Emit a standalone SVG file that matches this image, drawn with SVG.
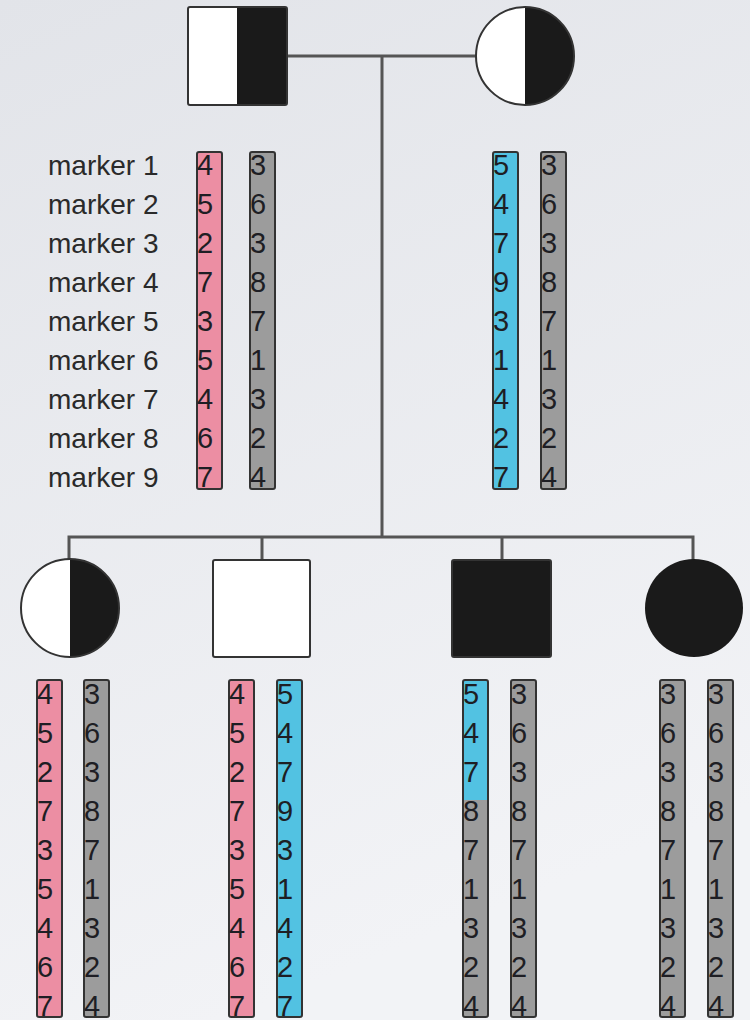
<svg xmlns="http://www.w3.org/2000/svg" width="750" height="1020" viewBox="0 0 750 1020">
  <defs>
    <linearGradient id="bg" x1="0" y1="0" x2="0.3" y2="1">
      <stop offset="0" stop-color="#e2e4e9"/>
      <stop offset="1" stop-color="#f2f3f6"/>
    </linearGradient>
    <style>
      .line { stroke: #555; stroke-width: 3; fill: none; }
      .edge { stroke: #333; stroke-width: 2; }
      .white { fill: #ffffff; }
      .black { fill: #1a1a1a; }
      .bar { stroke: #333; stroke-width: 2; }
      .pink { fill: #ec8ea3; }
      .cyan { fill: #52c2e2; }
      .grey { fill: #9c9c9c; }
      .num { font-family: "Liberation Sans", Arial, sans-serif; font-size: 29px; fill: #1e1e24; }
      .lbl { font-family: "Liberation Sans", Arial, sans-serif; font-size: 28px; fill: #2a2a2a; }
    </style>
  </defs>

  <rect width="750" height="1020" fill="url(#bg)"/>

  <!-- pedigree lines -->
  <g id="connectors">
    <line class="line" x1="287" y1="56" x2="476" y2="56"/>
    <line class="line" x1="382" y1="56" x2="382" y2="537"/>
    <polyline class="line" points="69,560 69,537 693,537 693,560"/>
    <line class="line" x1="262" y1="537" x2="262" y2="560"/>
    <line class="line" x1="502" y1="537" x2="502" y2="560"/>
  </g>

  <!-- father: half-shaded square -->
  <g id="father">
    <rect class="white" x="188" y="7" width="50" height="98"/>
    <rect class="black" x="237" y="7" width="50" height="98"/>
    <rect class="edge" x="188" y="7" width="99" height="98" rx="2" fill="none"/>
  </g>

  <!-- mother: half-shaded circle -->
  <g id="mother">
    <circle class="white" cx="525" cy="56" r="49"/>
    <path class="black" d="M525,7 A49,49 0 0 1 525,105 Z"/>
    <circle class="edge" cx="525" cy="56" r="49" fill="none"/>
  </g>

  <!-- children -->
  <g id="child1">
    <circle class="white" cx="70" cy="608" r="49"/>
    <path class="black" d="M70,559 A49,49 0 0 1 70,657 Z"/>
    <circle class="edge" cx="70" cy="608" r="49" fill="none"/>
  </g>
  <g id="child2">
    <rect class="white edge" x="213" y="560" width="97" height="97" rx="2"/>
  </g>
  <g id="child3">
    <rect class="black edge" x="452" y="560" width="99" height="97" rx="2"/>
  </g>
  <g id="child4">
    <circle class="black" cx="694" cy="608" r="49"/>
  </g>

  <!-- marker labels -->
  <g id="labels" class="lbl">
    <text x="48" y="175">marker 1</text>
    <text x="48" y="214">marker 2</text>
    <text x="48" y="253">marker 3</text>
    <text x="48" y="292">marker 4</text>
    <text x="48" y="331">marker 5</text>
    <text x="48" y="370">marker 6</text>
    <text x="48" y="409">marker 7</text>
    <text x="48" y="448">marker 8</text>
    <text x="48" y="487">marker 9</text>
  </g>

  <!-- father haplotypes -->
  <g id="father-haplotypes">
    <rect class="bar pink" x="197" y="152" width="25" height="337" rx="2"/>
    <text class="num" x="197" y="175"><tspan x="197">4</tspan><tspan x="197" dy="39">5</tspan><tspan x="197" dy="39">2</tspan><tspan x="197" dy="39">7</tspan><tspan x="197" dy="39">3</tspan><tspan x="197" dy="39">5</tspan><tspan x="197" dy="39">4</tspan><tspan x="197" dy="39">6</tspan><tspan x="197" dy="39">7</tspan></text>
    <rect class="bar grey" x="250" y="152" width="25" height="337" rx="2"/>
    <text class="num" x="250" y="175"><tspan x="250">3</tspan><tspan x="250" dy="39">6</tspan><tspan x="250" dy="39">3</tspan><tspan x="250" dy="39">8</tspan><tspan x="250" dy="39">7</tspan><tspan x="250" dy="39">1</tspan><tspan x="250" dy="39">3</tspan><tspan x="250" dy="39">2</tspan><tspan x="250" dy="39">4</tspan></text>
  </g>

  <!-- mother haplotypes -->
  <g id="mother-haplotypes">
    <rect class="bar cyan" x="493" y="152" width="25" height="337" rx="2"/>
    <text class="num" x="493" y="175"><tspan x="493">5</tspan><tspan x="493" dy="39">4</tspan><tspan x="493" dy="39">7</tspan><tspan x="493" dy="39">9</tspan><tspan x="493" dy="39">3</tspan><tspan x="493" dy="39">1</tspan><tspan x="493" dy="39">4</tspan><tspan x="493" dy="39">2</tspan><tspan x="493" dy="39">7</tspan></text>
    <rect class="bar grey" x="541" y="152" width="25" height="337" rx="2"/>
    <text class="num" x="541" y="175"><tspan x="541">3</tspan><tspan x="541" dy="39">6</tspan><tspan x="541" dy="39">3</tspan><tspan x="541" dy="39">8</tspan><tspan x="541" dy="39">7</tspan><tspan x="541" dy="39">1</tspan><tspan x="541" dy="39">3</tspan><tspan x="541" dy="39">2</tspan><tspan x="541" dy="39">4</tspan></text>
  </g>

  <!-- child 1 haplotypes -->
  <g id="child1-haplotypes">
    <rect class="bar pink" x="37" y="680" width="25" height="337" rx="2"/>
    <text class="num" x="37" y="704"><tspan x="37">4</tspan><tspan x="37" dy="39">5</tspan><tspan x="37" dy="39">2</tspan><tspan x="37" dy="39">7</tspan><tspan x="37" dy="39">3</tspan><tspan x="37" dy="39">5</tspan><tspan x="37" dy="39">4</tspan><tspan x="37" dy="39">6</tspan><tspan x="37" dy="39">7</tspan></text>
    <rect class="bar grey" x="84" y="680" width="25" height="337" rx="2"/>
    <text class="num" x="84" y="704"><tspan x="84">3</tspan><tspan x="84" dy="39">6</tspan><tspan x="84" dy="39">3</tspan><tspan x="84" dy="39">8</tspan><tspan x="84" dy="39">7</tspan><tspan x="84" dy="39">1</tspan><tspan x="84" dy="39">3</tspan><tspan x="84" dy="39">2</tspan><tspan x="84" dy="39">4</tspan></text>
  </g>

  <!-- child 2 haplotypes -->
  <g id="child2-haplotypes">
    <rect class="bar pink" x="229" y="680" width="25" height="337" rx="2"/>
    <text class="num" x="229" y="704"><tspan x="229">4</tspan><tspan x="229" dy="39">5</tspan><tspan x="229" dy="39">2</tspan><tspan x="229" dy="39">7</tspan><tspan x="229" dy="39">3</tspan><tspan x="229" dy="39">5</tspan><tspan x="229" dy="39">4</tspan><tspan x="229" dy="39">6</tspan><tspan x="229" dy="39">7</tspan></text>
    <rect class="bar cyan" x="277" y="680" width="25" height="337" rx="2"/>
    <text class="num" x="277" y="704"><tspan x="277">5</tspan><tspan x="277" dy="39">4</tspan><tspan x="277" dy="39">7</tspan><tspan x="277" dy="39">9</tspan><tspan x="277" dy="39">3</tspan><tspan x="277" dy="39">1</tspan><tspan x="277" dy="39">4</tspan><tspan x="277" dy="39">2</tspan><tspan x="277" dy="39">7</tspan></text>
  </g>

  <!-- child 3 haplotypes (recombinant) -->
  <g id="child3-haplotypes">
    <rect class="grey" x="463" y="680" width="25" height="337" rx="2"/>
    <rect class="cyan" x="463" y="680" width="25" height="120"/>
    <rect class="bar" x="463" y="680" width="25" height="337" rx="2" fill="none"/>
    <text class="num" x="463" y="704"><tspan x="463">5</tspan><tspan x="463" dy="39">4</tspan><tspan x="463" dy="39">7</tspan><tspan x="463" dy="39">8</tspan><tspan x="463" dy="39">7</tspan><tspan x="463" dy="39">1</tspan><tspan x="463" dy="39">3</tspan><tspan x="463" dy="39">2</tspan><tspan x="463" dy="39">4</tspan></text>
    <rect class="bar grey" x="511" y="680" width="25" height="337" rx="2"/>
    <text class="num" x="511" y="704"><tspan x="511">3</tspan><tspan x="511" dy="39">6</tspan><tspan x="511" dy="39">3</tspan><tspan x="511" dy="39">8</tspan><tspan x="511" dy="39">7</tspan><tspan x="511" dy="39">1</tspan><tspan x="511" dy="39">3</tspan><tspan x="511" dy="39">2</tspan><tspan x="511" dy="39">4</tspan></text>
  </g>

  <!-- child 4 haplotypes -->
  <g id="child4-haplotypes">
    <rect class="bar grey" x="660" y="680" width="25" height="337" rx="2"/>
    <text class="num" x="660" y="704"><tspan x="660">3</tspan><tspan x="660" dy="39">6</tspan><tspan x="660" dy="39">3</tspan><tspan x="660" dy="39">8</tspan><tspan x="660" dy="39">7</tspan><tspan x="660" dy="39">1</tspan><tspan x="660" dy="39">3</tspan><tspan x="660" dy="39">2</tspan><tspan x="660" dy="39">4</tspan></text>
    <rect class="bar grey" x="708" y="680" width="25" height="337" rx="2"/>
    <text class="num" x="708" y="704"><tspan x="708">3</tspan><tspan x="708" dy="39">6</tspan><tspan x="708" dy="39">3</tspan><tspan x="708" dy="39">8</tspan><tspan x="708" dy="39">7</tspan><tspan x="708" dy="39">1</tspan><tspan x="708" dy="39">3</tspan><tspan x="708" dy="39">2</tspan><tspan x="708" dy="39">4</tspan></text>
  </g>
</svg>
